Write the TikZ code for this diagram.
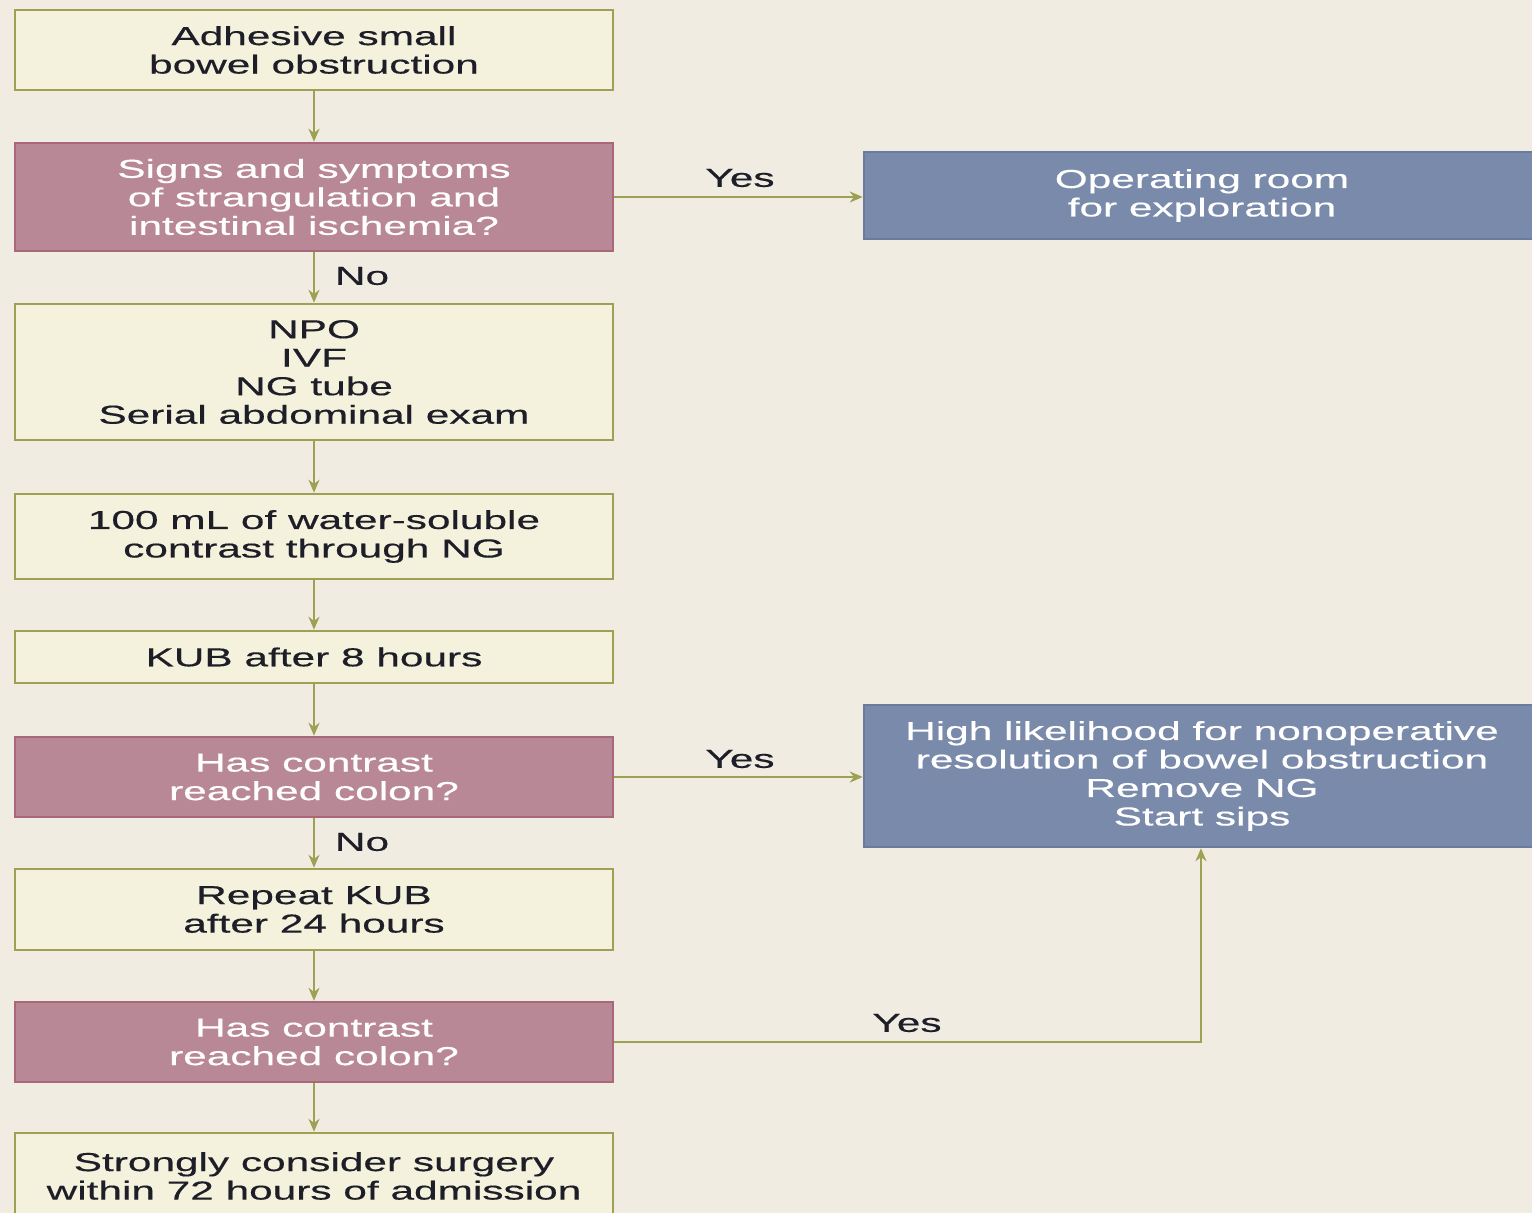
\documentclass[tikz,border=0pt]{standalone}
\usepackage{fontspec}
\setmainfont{Liberation Sans}[FakeStretch=1.63,FakeBold=0.4]
\usetikzlibrary{arrows.meta}
\definecolor{bgc}{HTML}{F0ECE2}
\definecolor{creamfill}{HTML}{F4F2DC}
\definecolor{olive}{HTML}{9EA054}
\definecolor{pinkfill}{HTML}{B98896}
\definecolor{pinkline}{HTML}{A8687A}
\definecolor{bluefill}{HTML}{7A8AAA}
\definecolor{blueline}{HTML}{6A7BA0}
\definecolor{darktext}{HTML}{1E1E28}
\tikzset{
  base/.style={rectangle, line width=2.5pt, align=center, inner sep=0pt,
    font=\fontsize{26}{28.5}\selectfont},
  cream/.style={base, fill=creamfill, draw=olive, text=darktext, minimum width=598},
  pinkbox/.style={base, fill=pinkfill, draw=pinkline, text=white, minimum width=598},
  bluebox/.style={base, fill=bluefill, draw=blueline, text=white, minimum width=676},
  arr/.style={draw=olive, line width=2.5pt, -{Stealth[length=13pt,width=11pt]}},
  lbl/.style={text=darktext, font=\fontsize{26}{28.5}\selectfont, inner sep=0pt}
}
\begin{document}
\begin{tikzpicture}[x=1pt,y=-1pt]
\clip (0,0) rectangle (1532,1213);
\fill[bgc] (0,0) rectangle (1532,1213);
\node[cream, minimum height=80] (b1) at (314,50) {Adhesive small\\bowel obstruction};
\node[pinkbox, minimum height=108] (b2) at (314,197) {Signs and symptoms\\of strangulation and\\intestinal ischemia?};
\node[cream, minimum height=136] (b3) at (314,372) {NPO\\IVF\\NG tube\\Serial abdominal exam};
\node[cream, minimum height=85] (b4) at (314,536.5) {100 mL of water-soluble\\contrast through NG};
\node[cream, minimum height=52] (b5) at (314,657) {KUB after 8 hours};
\node[pinkbox, minimum height=80] (b6) at (314,777) {Has contrast\\reached colon?};
\node[cream, minimum height=81] (b7) at (314,909.5) {Repeat KUB\\after 24 hours};
\node[pinkbox, minimum height=80] (b8) at (314,1042) {Has contrast\\reached colon?};
\node[cream, minimum height=86] (b9) at (314,1176) {Strongly consider surgery\\within 72 hours of admission};
\node[bluebox, minimum height=87] (r1) at (1202,195.5) {Operating room\\for exploration};
\node[bluebox, minimum height=142] (r2) at (1202,776) {High likelihood for nonoperative\\resolution of bowel obstruction\\Remove NG\\Start sips};
\coordinate (c1) at (1201,1042);
\draw[arr] (b1) -- (b2);
\draw[arr] (b2) -- (b3);
\draw[arr] (b3) -- (b4);
\draw[arr] (b4) -- (b5);
\draw[arr] (b5) -- (b6);
\draw[arr] (b6) -- (b7);
\draw[arr] (b7) -- (b8);
\draw[arr] (b8) -- (b9);
\draw[arr] (b2.east) -- (b2.east -| r1.west);
\draw[arr] (b6.east) -- (b6.east -| r2.west);
\draw[arr] (b8.east) -- (c1) -- (c1 |- r2.south);
\node[lbl] (y1) at (740,178) {Yes};
\node[lbl] (y2) at (740,759) {Yes};
\node[lbl] (y3) at (907,1023) {Yes};
\node[lbl] (n1) at (362,276) {No};
\node[lbl] (n2) at (362,842) {No};
\end{tikzpicture}
\end{document}
